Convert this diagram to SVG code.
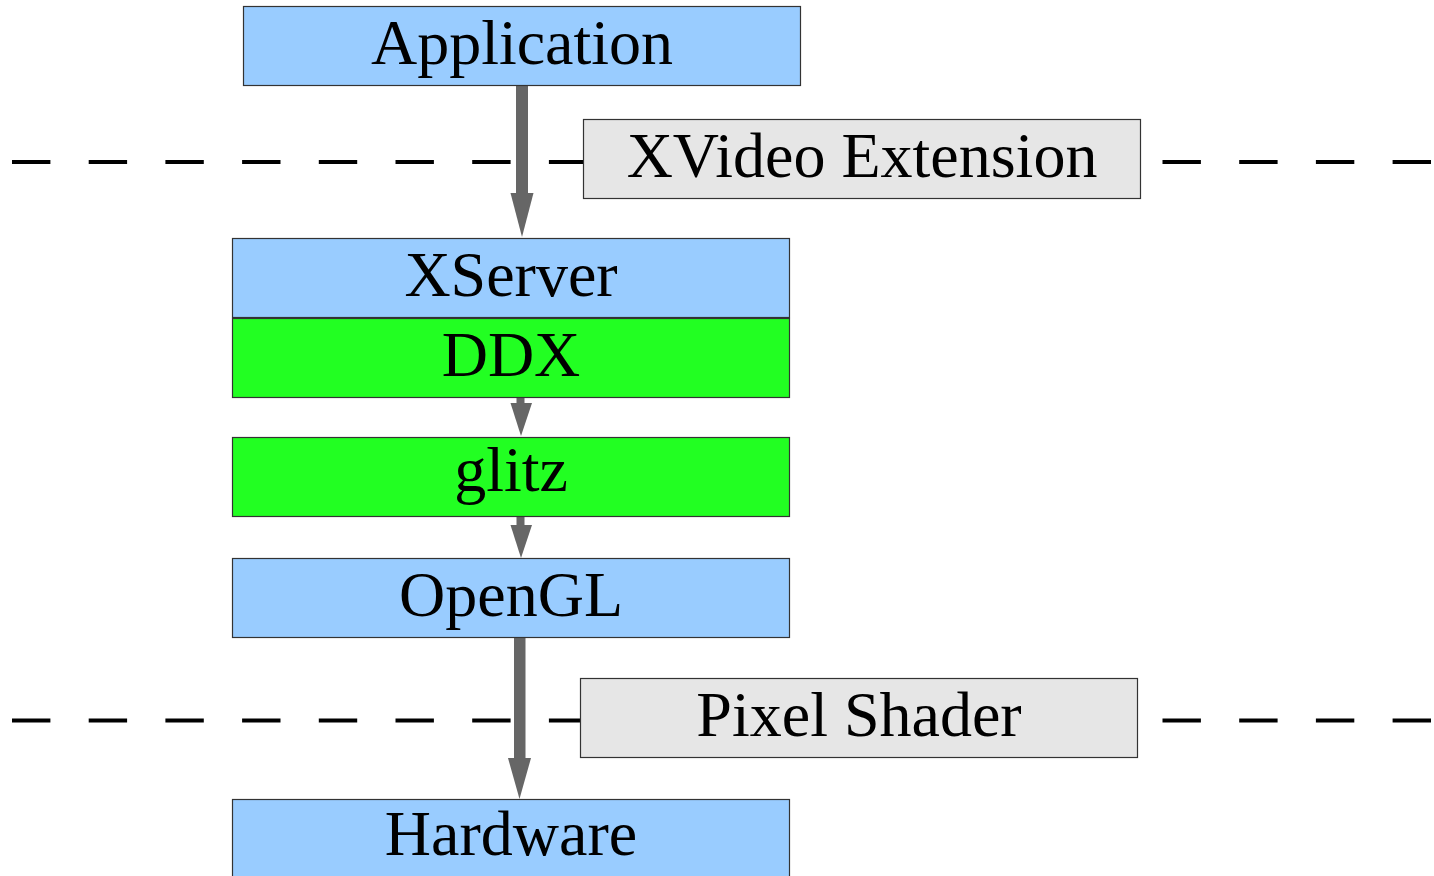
<svg xmlns="http://www.w3.org/2000/svg" width="1434" height="876" viewBox="0 0 1434 876">
<style>
.box{stroke:#333;stroke-width:1.2}
.blue{fill:#99ccff}
.green{fill:#22ff22}
.gray{fill:#e6e6e6}
.lbl{font-family:"Liberation Serif","Times New Roman",serif;font-size:64px;fill:#000;text-anchor:middle}
.dash{stroke:#000;stroke-width:4;stroke-dasharray:38.4 38.3;fill:none}
.shaft{fill:#666}
</style>
<g id="separators">
<line class="dash" x1="12" y1="162" x2="1434" y2="162"/>
<line class="dash" x1="12" y1="720.5" x2="1434" y2="720.5"/>
</g>
<g id="connectors">
<rect class="shaft" x="516" y="86" width="12" height="108"/>
<polygon class="shaft" points="510.5,193 533.5,193 522,237"/>
<rect class="shaft" x="516.5" y="398" width="8" height="6"/>
<polygon class="shaft" points="510.5,403 532,403 521,436"/>
<rect class="shaft" x="516.5" y="517" width="8" height="9"/>
<polygon class="shaft" points="510.5,525 532,525 521,558"/>
<rect class="shaft" x="514" y="638" width="11.5" height="121"/>
<polygon class="shaft" points="508,758 531,758 519.5,799"/>
</g>
<g id="application">
<rect class="box blue" x="243.5" y="6.5" width="557" height="79"/>
<text class="lbl" x="522" y="64">Application</text>
</g>
<g id="xvideo">
<rect class="box gray" x="583.5" y="119.5" width="557" height="79"/>
<text class="lbl" x="862" y="177">XVideo Extension</text>
</g>
<g id="xserver">
<rect class="box blue" x="232.5" y="238.5" width="557" height="79"/>
<text class="lbl" x="511" y="296">XServer</text>
</g>
<g id="ddx">
<rect class="box green" x="232.5" y="318.5" width="557" height="79"/>
<text class="lbl" x="511" y="376">DDX</text>
</g>
<g id="glitz">
<rect class="box green" x="232.5" y="437.5" width="557" height="79"/>
<text class="lbl" x="511" y="491">glitz</text>
</g>
<g id="opengl">
<rect class="box blue" x="232.5" y="558.5" width="557" height="79"/>
<text class="lbl" x="511" y="616">OpenGL</text>
</g>
<g id="pixelshader">
<rect class="box gray" x="580.5" y="678.5" width="557" height="79"/>
<text class="lbl" x="859" y="736">Pixel Shader</text>
</g>
<g id="hardware">
<rect class="box blue" x="232.5" y="799.5" width="557" height="79"/>
<text class="lbl" x="511" y="855">Hardware</text>
</g>
</svg>
